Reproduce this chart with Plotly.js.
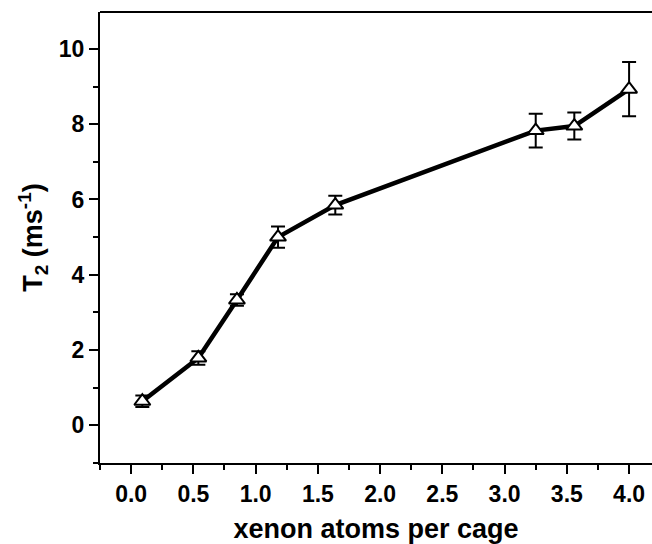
<!DOCTYPE html>
<html>
<head>
<meta charset="utf-8">
<script src="https://cdn.plot.ly/plotly-3.0.1.min.js"></script>
<style>
  html, body { margin: 0; padding: 0; background: #ffffff; }
  #chart { width: 652px; height: 544px; }
</style>
</head>
<body>
<div id="chart"></div>
<script>
// Xenon loading per cage and the measured T2 with its uncertainty
const xenonPerCage = [0.09, 0.54, 0.85, 1.18, 1.64, 3.25, 3.56, 4.00];
const t2Values     = [0.64, 1.79, 3.33, 5.00, 5.85, 7.83, 7.95, 8.93];
const t2Errors     = [0.15, 0.18, 0.15, 0.28, 0.25, 0.45, 0.36, 0.72];

const xTickVals  = [0, 0.5, 1, 1.5, 2, 2.5, 3, 3.5, 4];
const xTickText  = ['0.0', '0.5', '1.0', '1.5', '2.0', '2.5', '3.0', '3.5', '4.0'];
const xMinorVals = [-0.25, 0.25, 0.75, 1.25, 1.75, 2.25, 2.75, 3.25, 3.75];
const yTickVals  = [0, 2, 4, 6, 8, 10];
const yTickText  = ['0', '2', '4', '6', '8', '10'];
const yMinorVals = [-1, 1, 3, 5, 7, 9];

const fontFamily = 'Arial, "Liberation Sans", sans-serif';

const trace = {
  type: 'scatter',
  mode: 'lines+markers',
  x: xenonPerCage,
  y: t2Values,
  line: { color: '#000000', width: 4.5 },
  marker: {
    symbol: 'triangle-up',
    size: 14,
    color: '#ffffff',
    line: { color: '#000000', width: 2 }
  },
  error_y: {
    type: 'data',
    array: t2Errors,
    visible: true,
    color: '#000000',
    thickness: 2,
    width: 7
  },
  hoverinfo: 'x+y'
};

const layout = {
  width: 652,
  height: 544,
  margin: { l: 100, r: 0, t: 12, b: 81 },
  paper_bgcolor: '#ffffff',
  plot_bgcolor: '#ffffff',
  showlegend: false,
  font: { family: fontFamily, size: 23, color: '#000000', weight: 'bold' },
  xaxis: {
    range: [-0.25, 4.184],
    tickvals: xTickVals,
    ticktext: xTickText,
    ticks: 'outside',
    ticklen: 9,
    tickwidth: 2,
    tickcolor: '#000000',
    showline: true,
    linecolor: '#000000',
    linewidth: 2,
    showgrid: false,
    zeroline: false,
    minor: { tickvals: xMinorVals, ticks: 'outside', ticklen: 5, tickwidth: 2, tickcolor: '#000000', showgrid: false },
    tickfont: { family: fontFamily, size: 23, color: '#000000', weight: 'bold' },
    title: { text: 'xenon atoms per cage', font: { family: fontFamily, size: 27, color: '#000000', weight: 'bold' }, standoff: 16 },
    automargin: false
  },
  yaxis: {
    range: [-1, 10.98],
    tickvals: yTickVals,
    ticktext: yTickText,
    ticks: 'outside',
    ticklen: 9,
    tickwidth: 2,
    tickcolor: '#000000',
    showline: true,
    linecolor: '#000000',
    linewidth: 2,
    showgrid: false,
    zeroline: false,
    minor: { tickvals: yMinorVals, ticks: 'outside', ticklen: 5, tickwidth: 2, tickcolor: '#000000', showgrid: false },
    tickfont: { family: fontFamily, size: 23, color: '#000000', weight: 'bold' },
    title: { text: 'T<sub>2</sub> (ms<sup>-1</sup>)', font: { family: fontFamily, size: 27, color: '#000000', weight: 'bold' }, standoff: 8 },
    automargin: false
  },
  shapes: [
    {
      // closing line along the top of the plot area
      type: 'line', xref: 'paper', yref: 'paper',
      x0: 0, x1: 1, y0: 1, y1: 1,
      line: { color: '#000000', width: 2 }
    }
  ]
};

Plotly.newPlot('chart', [trace], layout, { displayModeBar: false, staticPlot: true });
</script>
</body>
</html>
